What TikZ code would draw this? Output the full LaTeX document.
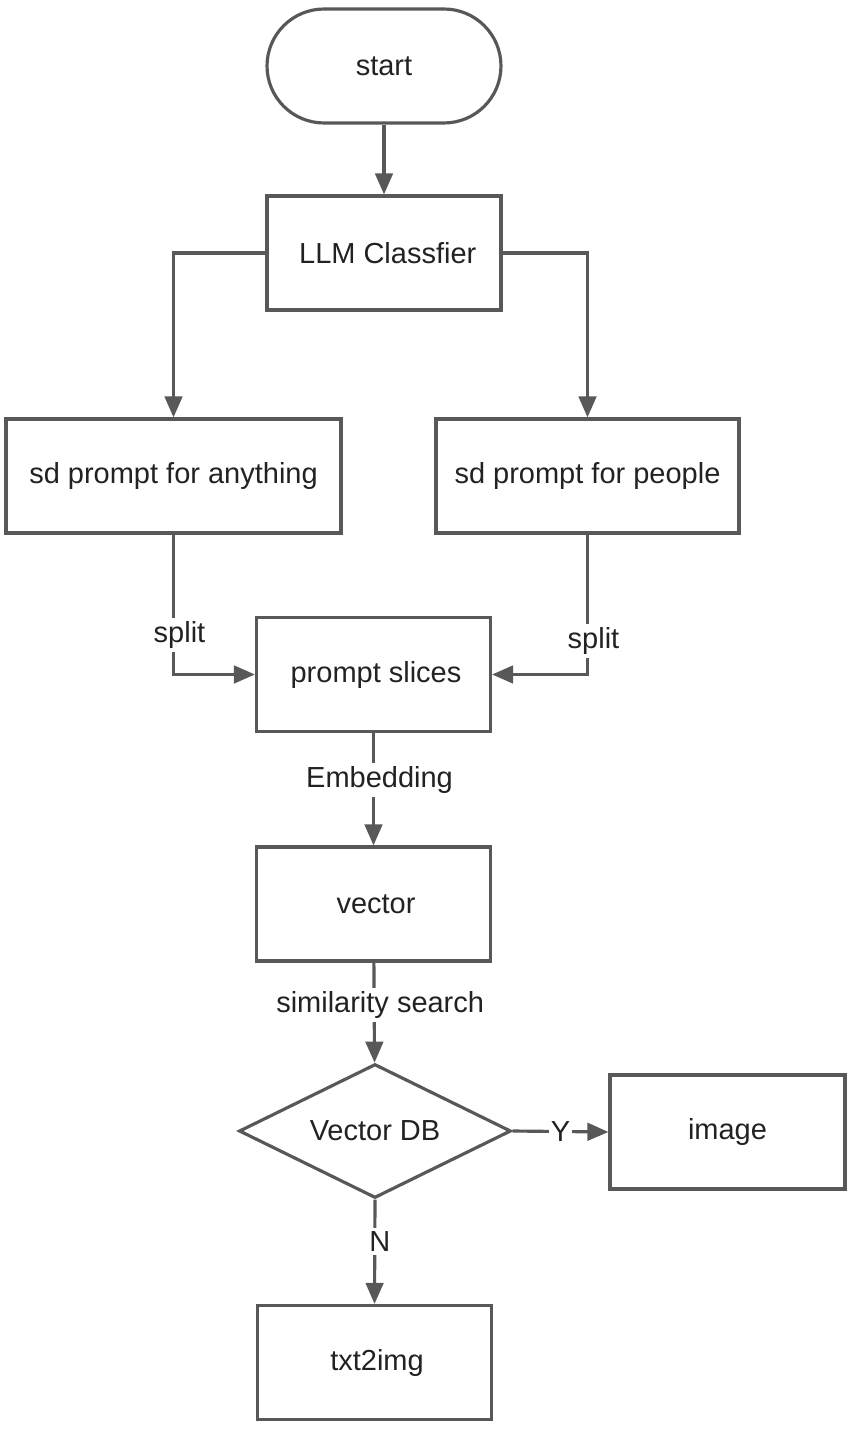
\documentclass[tikz,border=0pt]{standalone}
\usepackage{fontspec}
\setmainfont{Liberation Sans}
\usepackage{tikz}
\usetikzlibrary{arrows.meta,shapes.geometric}
\definecolor{flowline}{RGB}{88,88,88}
\definecolor{flowtext}{RGB}{34,34,34}
\tikzset{
  box/.style={draw=flowline,line width=1.8pt,text=flowtext,minimum width=4.68cm,minimum height=2.28cm,inner sep=0pt,font=\fontsize{16.5}{19}\selectfont},
  terminal/.style={box,rounded corners=1.14cm},
  decision/.style={draw=flowline,line width=1.8pt,text=flowtext,diamond,aspect=2.03,minimum width=5.44cm,minimum height=2.68cm,inner sep=0pt,font=\fontsize{16.5}{19}\selectfont},
  flow/.style={draw=flowline,line width=1.8pt,-{Triangle[length=12pt,width=10pt]}},
  lbl/.style={fill=white,text=flowtext,inner sep=2pt,font=\fontsize{16.5}{19}\selectfont}
}

\begin{document}
\begin{tikzpicture}[x=0.02cm,y=-0.02cm]
			\useasboundingbox (0,0) rectangle (854,1429);
			\node [terminal] (start) at (384,66) {start};
			\node [box] (llm) at (384,253) {\hspace*{0.15cm}LLM Classfier};
			\node [box,minimum width=6.7cm] (anything) at (173.5,476) {sd prompt for anything};
			\node [box,minimum width=6.06cm] (people) at (587.5,476) {sd prompt for people};
			\node [box] (slices) at (373.5,674.5) {\hspace*{0.1cm}prompt slices};
			\node [box] (vector) at (373.5,904) {\hspace*{0.1cm}vector};
			\node [decision] (db) at (375,1131) {Vector DB};
			\node [box,minimum width=4.7cm] (image) at (727.5,1132) {image};
			\node [box] (txt) at (374.5,1362.5) {\hspace*{0.1cm}txt2img};
			\draw [flow] (start) -- (llm);
			\draw [flow] (llm.west) -| (anything.north);
			\draw [flow] (llm.east) -| (people.north);
			\draw [flow] (anything.south) |- node [lbl,pos=0.36,xshift=0.12cm] {split} (slices.west);
			\draw [flow] (people.south) |- node [lbl,pos=0.38,xshift=0.12cm] {split} (slices.east);
			\draw [flow] (slices) -- node [lbl,pos=0.42,xshift=0.12cm] {Embedding} (vector);
			\draw [flow] (vector) -- node [lbl,pos=0.42,xshift=0.12cm] {similarity search} (db);
			\draw [flow] (db.east) -- node [lbl,inner sep=1pt] {Y} (image.west);
			\draw [flow] (db.south) -- node [lbl,pos=0.4,xshift=0.1cm] {N} (txt.north);
		\end{tikzpicture}
\end{document}
